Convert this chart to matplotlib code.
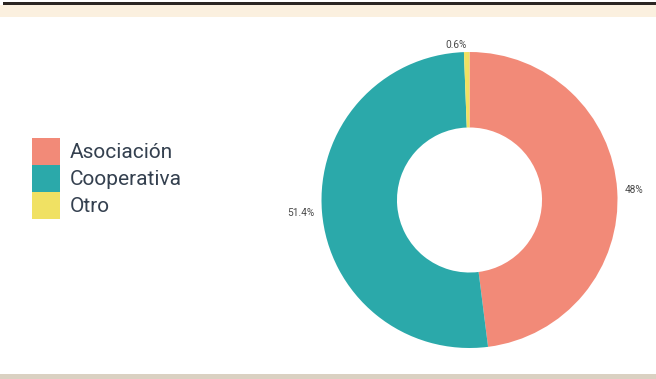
import matplotlib
matplotlib.use('Agg')
import matplotlib.pyplot as plt
from matplotlib.patches import Rectangle

categorias = ['Asociación', 'Cooperativa', 'Otro']
porcentajes = [48.0, 51.4, 0.6]
colores = ['#F28A78', '#2BA9AA', '#F0E163']

W, H = 656, 379
fig = plt.figure(figsize=(W / 100, H / 100), dpi=100, facecolor='white')

# franjas del marco (linea oscura arriba, banda beige, sombra abajo)
fig.patches.append(Rectangle((0, 1 - 17 / H), 1, 12 / H, transform=fig.transFigure,
                             facecolor='#FBF0DF', edgecolor='none', zorder=0))
fig.patches.append(Rectangle((3 / W, 1 - 5 / H), 1, 3 / H, transform=fig.transFigure,
                             facecolor='#2B2522', edgecolor='none', zorder=1))
fig.patches.append(Rectangle((0, 0), 1, 5 / H, transform=fig.transFigure,
                             facecolor='#DAD1C2', edgecolor='none', zorder=0))

# dona
cx, cy, r = 469.5, 200, 148
ax = fig.add_axes([(cx - r) / W, (H - cy - r) / H, 2 * r / W, 2 * r / H])
etiquetas = [f'{p:g}%' for p in porcentajes]
wedges, textos = ax.pie(porcentajes, colors=colores, startangle=90, counterclock=False,
                        labels=etiquetas, labeldistance=1.05,
                        wedgeprops=dict(width=0.51, edgecolor='none'),
                        textprops=dict(fontsize=7.3, color='#4A4A4A', family='Roboto'))
for t in textos:
    t.set_clip_on(False)
ax.set_xlim(-1, 1)
ax.set_ylim(-1, 1)
ax.set_aspect('equal')
ax.axis('off')

fig.legend(wedges, categorias, loc='upper left', bbox_to_anchor=(32 / W, 1 - 138 / H),
           frameon=False, borderpad=0, borderaxespad=0, labelspacing=0,
           handlelength=1.35, handleheight=1.62, handletextpad=0.48,
           prop=dict(family='Roboto', size=15), labelcolor='#34404F')

fig.savefig('out.png', dpi=100, facecolor='white')
